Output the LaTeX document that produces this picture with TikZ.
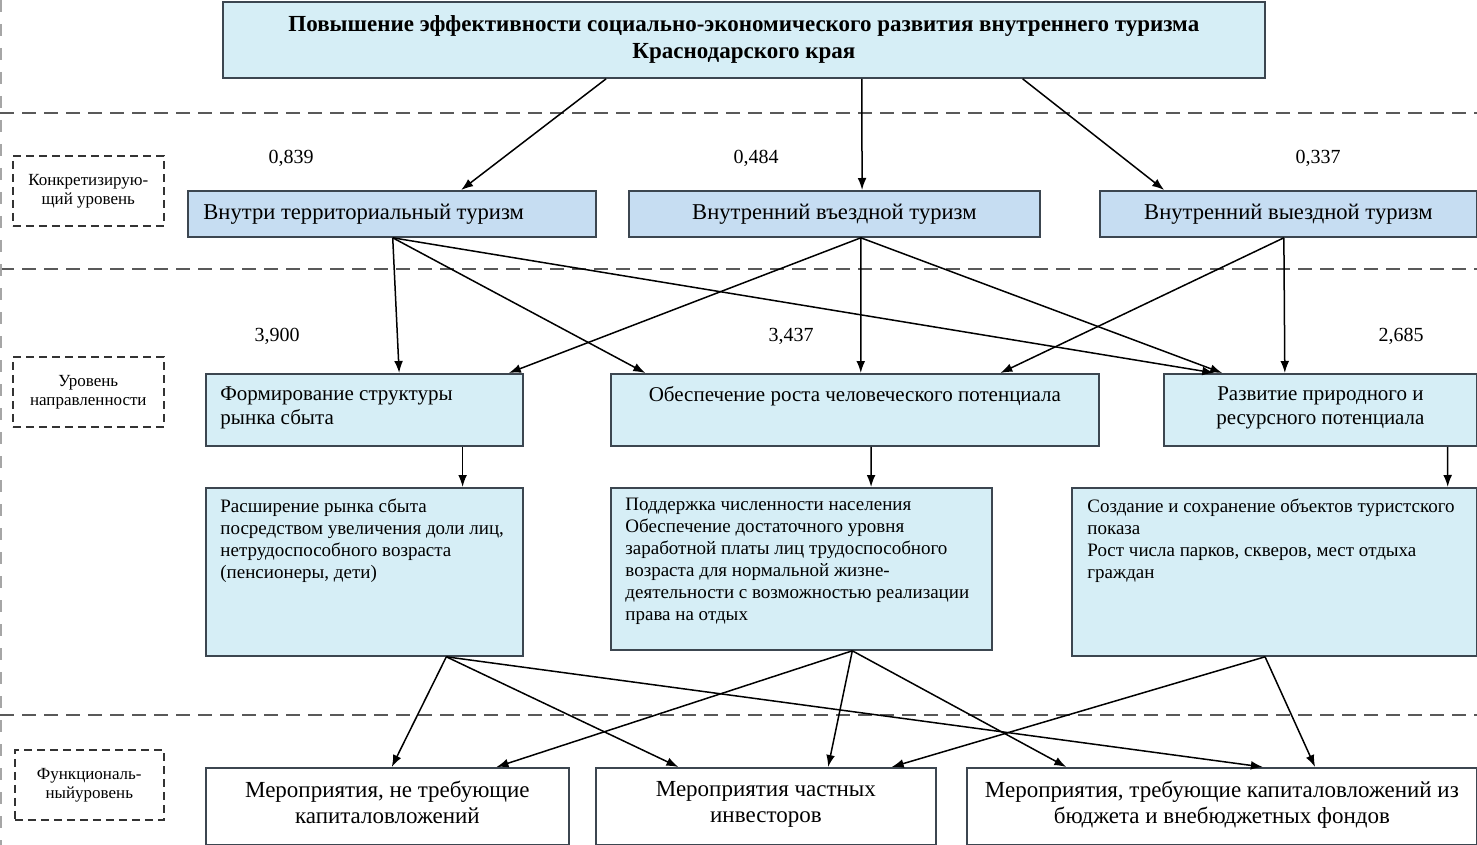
\documentclass[tikz,border=0pt]{standalone}
\usepackage{fontspec}
\setmainfont{Liberation Serif}
\usetikzlibrary{arrows.meta, calc, positioning}

\definecolor{goalfill}{HTML}{D6EEF6}
\definecolor{tourfill}{HTML}{C6DDF2}
\definecolor{dirfill}{HTML}{D6EEF6}
\definecolor{edge}{HTML}{3C4650}

\tikzset{
  block/.style={draw=edge, line width=0.9pt, inner sep=0pt, anchor=north west},
  goal/.style={block, fill=goalfill, align=center, font=\fontsize{11.5}{13.5}\selectfont\bfseries},
  tourfont/.style={font=\fontsize{11.3}{13}\selectfont},
  tour/.style={block, fill=tourfill, tourfont},
  dir/.style={block, fill=dirfill},
  act/.style={block, fill=white, align=center, font=\fontsize{11.5}{13}\selectfont},
  levelbox/.style={draw=black!80, line width=0.8pt, dash pattern=on 4pt off 2.5pt, anchor=north west,
    minimum width=75.5pt, minimum height=35pt, inner sep=0pt, align=center, font=\fontsize{8.5}{9.5}\selectfont},
  coef/.style={font=\fontsize{10}{12}\selectfont},
  dirtext/.style={inner sep=0pt, font=\fontsize{10.5}{12}\selectfont},
  note/.style={inner sep=0pt, align=left, font=\fontsize{9.5}{11}\selectfont},
  arr/.style={-{Latex[length=6pt,width=4.4pt]}, line width=0.75pt},
  sep/.style={black!65, line width=1pt, dash pattern=on 7pt off 4pt}
}

\begin{document}
\begin{tikzpicture}[x=0.5pt, y=-0.5pt]
  \useasboundingbox (0,0) rectangle (1477,845);

  % separators between levels
  \draw[sep] (0,113) -- (1477,113);
  \draw[sep] (0,269) -- (1477,269);
  \draw[sep] (0,715) -- (1477,715);
  \draw[black!35, line width=0.6pt, dash pattern=on 6pt off 6pt] (1,0) -- (1,845);

  % level labels
  \node[levelbox] (L1) at (12,155) {Конкретизирую-\\щий уровень};
  \node[levelbox] (L2) at (12,356) {Уровень\\направленности};
  \node[levelbox, minimum width=74.5pt] (L3) at (14,749) {Функциональ-\\ныйуровень};

  % goal
  \node[goal, minimum width=521pt, minimum height=38pt] (T) at (222,1)
    {Повышение эффективности социально-экономического развития внутреннего туризма\\Краснодарского края};

  % kinds of tourism
  \node[tour, minimum width=204pt, minimum height=23pt] (A) at (187,190) {};
  \node[tourfont, inner sep=0pt, right=8pt of A.west] (At) {Внутри территориальный туризм};
  \node[tour, minimum width=205.5pt, minimum height=23pt] (B) at (628,190) {Внутренний въездной туризм};
  \node[tour, minimum width=188.5pt, minimum height=23pt] (C) at (1099,190) {Внутренний выездной туризм};

  \node[coef] (c1) at (291,158) {0,839};
  \node[coef] (c2) at (756,158) {0,484};
  \node[coef] (c3) at (1318,158) {0,337};

  % directions
  \node[dir, minimum width=158.5pt, minimum height=36pt] (F) at (205,373) {};
  \node[dir, minimum width=244pt, minimum height=36pt] (O) at (610,373) {};
  \node[dir, minimum width=156.5pt, minimum height=36pt] (R) at (1163,373) {};
  \node[dirtext, align=left, below right=6.5pt and 7.5pt of F.north west] (Ft) {Формирование структуры\\рынка сбыта};
  \node[dirtext, below=6.5pt of O.north] (Ot) {Обеспечение роста человеческого потенциала};
  \node[dirtext, align=center, below=6.5pt of R.north] (Rt) {Развитие природного и\\ресурсного потенциала};

  \node[coef] (c4) at (277,336) {3,900};
  \node[coef] (c5) at (791,336) {3,437};
  \node[coef] (c6) at (1401,336) {2,685};

  % measures
  \node[dir, minimum width=158.5pt, minimum height=84pt] (E1) at (205,487) {};
  \node[dir, minimum width=190.5pt, minimum height=81pt] (E2) at (610,487) {};
  \node[dir, minimum width=202.5pt, minimum height=84pt] (E3) at (1071,487) {};
  \node[note, below right=5.5pt and 7.5pt of E1.north west] (E1t)
    {Расширение рынка сбыта\\посредством увеличения доли лиц,\\нетрудоспособного возраста\\(пенсионеры, дети)};
  \node[note, below right=5.5pt and 7.5pt of E2.north west] (E2t)
    {Поддержка численности населения\\Обеспечение достаточного уровня\\заработной платы лиц трудоспособного\\возраста для нормальной жизне-\\деятельности с возможностью реализации\\права на отдых};
  \node[note, below right=5.5pt and 8pt of E3.north west] (E3t)
    {Создание и сохранение объектов туристского\\показа\\Рост числа парков, скверов, мест отдыха\\граждан};

  % functional level
  \node[act, minimum width=181.5pt, minimum height=38.5pt] (M1) at (205,767) {Мероприятия, не требующие\\капиталовложений\\[-8.5pt]};
  \node[act, minimum width=170pt, minimum height=38.5pt] (M2) at (595,767) {Мероприятия частных\\инвесторов\\[-8.5pt]};
  \node[act, minimum width=255pt, minimum height=38.5pt] (M3) at (966,767) {Мероприятия, требующие капиталовложений из\\бюджета и внебюджетных фондов\\[-8.5pt]};

  % goal -> kinds
  \draw[arr] ($(T.south west)!.368!(T.south east)$) -- ($(A.north west)!.669!(A.north east)$);
  \draw[arr] ($(T.south west)!.613!(T.south east)$) -- ($(B.north west)!.567!(B.north east)$);
  \draw[arr] ($(T.south west)!.767!(T.south east)$) -- ($(C.north west)!.172!(C.north east)$);

  % kinds -> directions
  \draw[arr] ($(A.south west)!.502!(A.south east)$) -- ($(F.north west)!.609!(F.north east)$);
  \draw[arr] ($(A.south west)!.502!(A.south east)$) -- ($(O.north west)!.072!(O.north east)$);
  \draw[arr] ($(A.south west)!.502!(A.south east)$) -- ($(R.north west)!.163!(R.north east)$);
  \draw[arr] ($(B.south west)!.564!(B.south east)$) -- ($(F.north west)!.953!(F.north east)$);
  \draw[arr] ($(B.south west)!.564!(B.south east)$) -- ($(O.north west)!.512!(O.north east)$);
  \draw[arr] ($(B.south west)!.564!(B.south east)$) -- ($(R.north west)!.188!(R.north east)$);
  \draw[arr] ($(C.south west)!.488!(C.south east)$) -- ($(O.north west)!.797!(O.north east)$);
  \draw[arr] ($(C.south west)!.488!(C.south east)$) -- ($(R.north west)!.387!(R.north east)$);

  % directions -> measures
  \draw[arr] ($(F.south west)!.808!(F.south east)$) -- ($(E1.north west)!.808!(E1.north east)$);
  \draw[arr] ($(O.south west)!.533!(O.south east)$) -- ($(E2.north west)!.682!(E2.north east)$);
  \draw[arr] ($(R.south west)!.904!(R.south east)$) -- ($(E3.north west)!.926!(E3.north east)$);

  % measures -> functional level
  \draw[arr] ($(E1.south west)!.757!(E1.south east)$) -- ($(M1.north west)!.512!(M1.north east)$);
  \draw[arr] ($(E1.south west)!.757!(E1.south east)$) -- ($(M2.north west)!.244!(M2.north east)$);
  \draw[arr] ($(E1.south west)!.757!(E1.south east)$) -- ($(M3.north west)!.580!(M3.north east)$);
  \draw[arr] ($(E2.south west)!.633!(E2.south east)$) -- ($(M1.north west)!.799!(M1.north east)$);
  \draw[arr] ($(E2.south west)!.633!(E2.south east)$) -- ($(M2.north west)!.682!(M2.north east)$);
  \draw[arr] ($(E2.south west)!.633!(E2.south east)$) -- ($(M3.north west)!.196!(M3.north east)$);
  \draw[arr] ($(E3.south west)!.477!(E3.south east)$) -- ($(M2.north west)!.868!(M2.north east)$);
  \draw[arr] ($(E3.south west)!.477!(E3.south east)$) -- ($(M3.north west)!.682!(M3.north east)$);
\end{tikzpicture}
\end{document}
